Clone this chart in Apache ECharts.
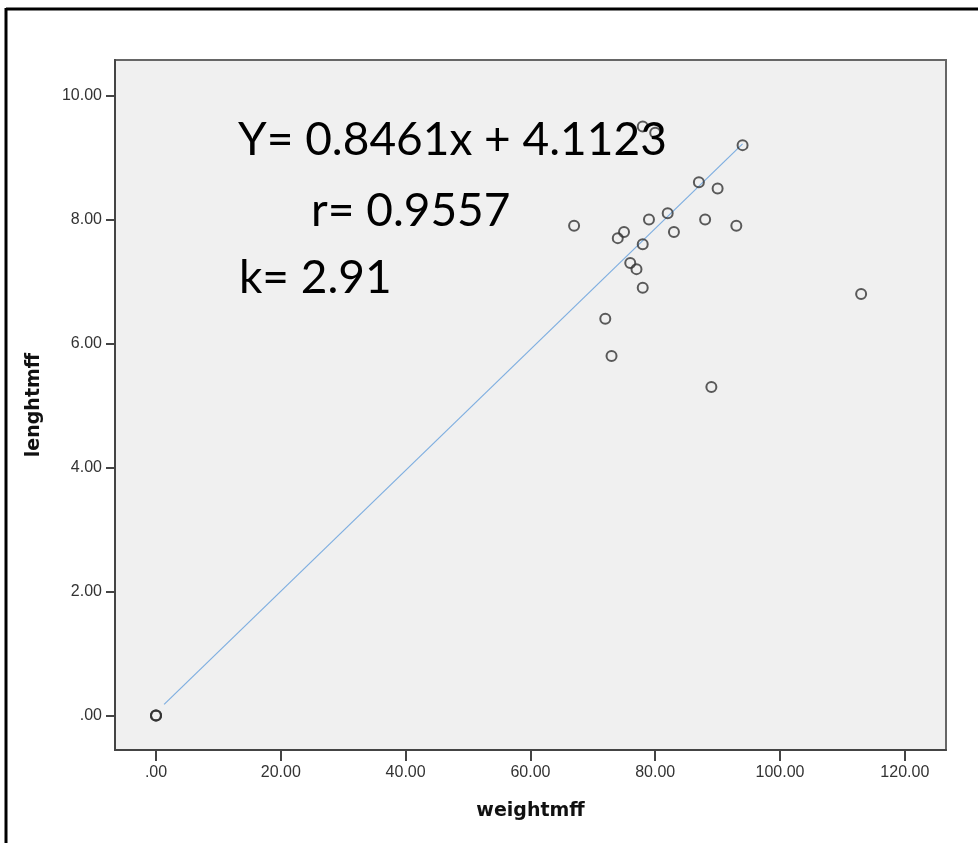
<!DOCTYPE html>
<html>
<head>
<meta charset="utf-8">
<script src="https://cdn.jsdelivr.net/npm/echarts@6/dist/echarts.min.js"></script>
<style>
html,body{margin:0;padding:0;background:#fff;}
#chart{width:978px;height:843px;}
</style>
</head>
<body>
<div id="chart"></div>
<script>
// Observed data (weightmff, lenghtmff)
const weightValues = [78, 80, 94, 87, 90, 67, 75, 74, 79, 82, 88, 93, 83, 78, 76, 77, 78, 72, 73, 89, 113, 0, 0, 0];
const lengthValues = [9.5, 9.4, 9.2, 8.6, 8.5, 7.9, 7.8, 7.7, 8.0, 8.1, 8.0, 7.9, 7.8, 7.6, 7.3, 7.2, 6.9, 6.4, 5.8, 5.3, 6.8, 0, 0, 0];
// Fit line endpoints (as drawn in the reference)
const fitX = [1.3, 94];
const fitY = [0.18, 9.22];
// Tick labels
const xTicks = [0, 20, 40, 60, 80, 100, 120];
const yTicks = [0, 2, 4, 6, 8, 10];
const annotations = ['Y= 0.8461x + 4.1123', 'r= 0.9557', 'k= 2.91'];

const fmt = v => (v === 0 ? '.00' : v.toFixed(2));

const chart = echarts.init(document.getElementById('chart'), null, {renderer: 'canvas'});
const scatterData = weightValues.map((w, i) => [w, lengthValues[i]]);
const fitData = fitX.map((x, i) => [x, fitY[i]]);

const labelFont = {fontFamily: 'Liberation Sans, Arial', fontSize: 16, color: '#333'};
const nameFont = {fontFamily: 'DejaVu Sans', fontWeight: 'bold', fontSize: 19, color: '#111'};

chart.setOption({
  animation: false,
  backgroundColor: '#ffffff',
  grid: {
    left: 115, top: 60, width: 831, height: 690,
    show: true, backgroundColor: '#f0f0f0', borderColor: '#666', borderWidth: 2
  },
  xAxis: {
    type: 'value', min: -6.57, max: 126.6,
    name: 'weightmff', nameLocation: 'middle', nameGap: 52,
    nameTextStyle: nameFont,
    axisLine: {show: true, onZero: false, lineStyle: {color: '#444', width: 2}},
    axisTick: {show: true, customValues: xTicks, length: 11, lineStyle: {color: '#444', width: 2}},
    axisLabel: Object.assign({customValues: xTicks, formatter: fmt, margin: 15}, labelFont),
    splitLine: {show: false}
  },
  yAxis: {
    type: 'value', min: -0.556, max: 10.573,
    name: 'lenghtmff', nameLocation: 'middle', nameGap: 71,
    nameTextStyle: nameFont,
    axisLine: {show: true, onZero: false, lineStyle: {color: '#444', width: 2}},
    axisTick: {show: true, customValues: yTicks, length: 9, lineStyle: {color: '#444', width: 2}},
    axisLabel: Object.assign({customValues: yTicks, formatter: fmt, margin: 13}, labelFont),
    splitLine: {show: false}
  },
  series: [
    {
      type: 'line', data: fitData, symbol: 'none', z: 2,
      lineStyle: {color: '#7eaee0', width: 1.2}
    },
    {
      type: 'scatter', data: scatterData, symbol: 'circle', symbolSize: 10, z: 3,
      itemStyle: {color: 'rgba(0,0,0,0)', borderColor: '#333', borderWidth: 2}
    }
  ],
  graphic: [
    {type: 'line', shape: {x1: 6, y1: 9, x2: 978, y2: 9}, style: {stroke: '#000', lineWidth: 3}},
    {type: 'line', shape: {x1: 6, y1: 8, x2: 6, y2: 843}, style: {stroke: '#000', lineWidth: 3}},
    {type: 'text', left: 238, top: 117, z: 100, style: {text: annotations[0], font: '46px Lato', fill: '#000'}},
    {type: 'text', left: 311, top: 188, z: 100, style: {text: annotations[1], font: '46px Lato', fill: '#000'}},
    {type: 'text', left: 239, top: 255, z: 100, style: {text: annotations[2], font: '46px Lato', fill: '#000'}}
  ]
});
</script>
</body>
</html>
